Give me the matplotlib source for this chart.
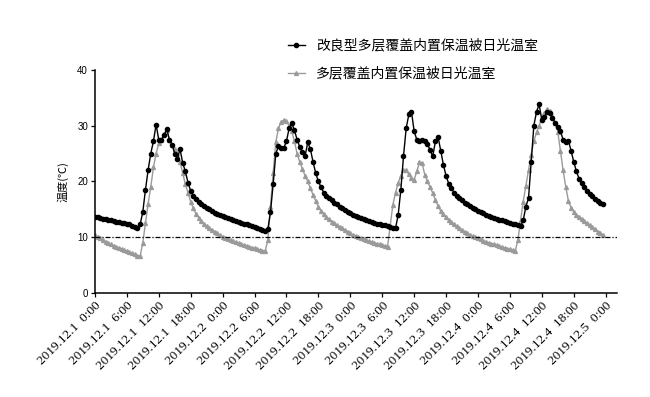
import numpy as np
import matplotlib
matplotlib.use("Agg")
import matplotlib.pyplot as plt

# half-hourly greenhouse temperatures, 2019.12.1 0:00 -> 2019.12.4 23:30
improved_temp = [
    # day 1
    13.7, 13.55, 13.4, 13.3, 13.2, 13.1, 13.0, 12.9,
    12.8, 12.7, 12.6, 12.5, 12.4, 12.3, 12.0, 11.8,
    11.7, 12.3, 14.5, 18.5, 22.0, 25.0, 27.2, 30.2,
    27.5, 27.4, 28.3, 29.4, 27.5, 26.6, 25.0, 24.0,
    25.8, 23.3, 21.8, 19.8, 18.3, 17.4, 16.9, 16.4,
    16.0, 15.6, 15.3, 15.0, 14.7, 14.4, 14.2, 14.0,
    # day 2
    13.8, 13.6, 13.4, 13.25, 13.1, 12.95, 12.8, 12.6,
    12.45, 12.3, 12.1, 11.95, 11.8, 11.6, 11.45, 11.3,
    11.1, 11.4, 14.5, 19.5, 25.0, 26.3, 26.0, 26.0,
    27.2, 29.5, 30.4, 29.2, 27.5, 26.2, 25.3, 24.5,
    27.0, 25.8, 23.5, 21.5, 20.0, 19.0, 18.0, 17.4,
    17.0, 16.6, 16.2, 15.9, 15.5, 15.2, 14.9, 14.6,
    # day 3
    14.3, 14.0, 13.8, 13.6, 13.4, 13.2, 13.05, 12.9,
    12.75, 12.6, 12.45, 12.3, 12.2, 12.1, 12.0, 11.85,
    11.7, 11.6, 14.0, 18.5, 24.5, 29.5, 32.0, 32.5,
    29.0, 27.5, 27.2, 27.4, 27.3, 26.7, 25.6, 24.5,
    27.2, 28.0, 25.5, 23.0, 21.0, 19.6, 18.8, 18.0,
    17.4, 17.0, 16.6, 16.2, 15.9, 15.6, 15.3, 15.0,
    # day 4
    14.7, 14.5, 14.3, 14.0, 13.8, 13.6, 13.45, 13.3,
    13.15, 13.0, 12.9, 12.75, 12.6, 12.45, 12.3, 12.15,
    12.0, 13.0, 15.5, 17.0, 23.5, 30.0, 32.5, 33.8,
    31.0, 31.5, 32.5, 32.2, 31.3, 30.5, 29.8, 29.0,
    27.5, 27.0, 27.3, 25.5, 23.5, 21.8, 20.5, 19.7,
    19.0, 18.3, 17.8, 17.3, 16.9, 16.5, 16.2, 15.9,
]

normal_temp = [
    # day 1
    10.4, 10.1, 9.8, 9.5, 9.2, 9.0, 8.7, 8.5,
    8.3, 8.1, 7.9, 7.7, 7.5, 7.3, 7.1, 6.9,
    6.7, 6.6, 9.0, 12.5, 16.0, 19.0, 22.5, 25.0,
    26.8, 27.5, 28.5, 29.2, 27.5, 26.5, 25.8, 25.0,
    23.5, 21.5, 19.5, 18.0, 16.3, 15.2, 14.2, 13.5,
    12.9, 12.4, 12.0, 11.6, 11.3, 11.0, 10.7, 10.4,
    # day 2
    10.1, 9.9, 9.7, 9.5, 9.3, 9.1, 8.9, 8.75,
    8.6, 8.45, 8.3, 8.15, 8.0, 7.85, 7.7, 7.55,
    7.45, 9.5, 15.5, 21.5, 27.0, 29.5, 30.7, 31.0,
    30.8, 30.0, 29.0, 27.2, 25.0, 23.5, 22.3, 21.0,
    20.0, 18.8, 17.6, 16.5, 15.5, 14.7, 14.1, 13.6,
    13.2, 12.8, 12.5, 12.2, 11.9, 11.6, 11.3, 11.0,
    # day 3
    10.7, 10.45, 10.25, 10.05, 9.85, 9.7, 9.5, 9.3,
    9.15, 9.0, 8.85, 8.7, 8.55, 8.45, 8.3, 12.0,
    15.8, 18.0, 19.7, 21.0, 22.1, 22.0, 21.3, 20.6,
    20.3, 21.8, 23.4, 23.3, 21.2, 20.0, 19.0, 17.9,
    16.7, 15.6, 14.7, 14.1, 13.6, 13.1, 12.7, 12.3,
    12.0, 11.6, 11.3, 11.0, 10.7, 10.45, 10.2, 10.0,
    # day 4
    9.8, 9.6, 9.4, 9.2, 9.0, 8.85, 8.7, 8.55,
    8.4, 8.25, 8.1, 7.95, 7.8, 7.65, 7.5, 9.5,
    13.0, 16.4, 19.2, 22.0, 24.8, 27.2, 28.8, 30.0,
    31.5, 32.3, 33.0, 32.7, 31.8, 30.5, 28.9, 25.5,
    22.0, 19.0, 16.5, 15.3, 14.5, 14.0, 13.7, 13.3,
    12.9, 12.5, 12.2, 11.8, 11.4, 11.0, 10.7, 10.4,
]

tick_labels = [
    "2019.12.1  0:00", "2019.12.1  6:00", "2019.12.1  12:00", "2019.12.1  18:00",
    "2019.12.2  0:00", "2019.12.2  6:00", "2019.12.2  12:00", "2019.12.2  18:00",
    "2019.12.3  0:00", "2019.12.3  6:00", "2019.12.3  12:00", "2019.12.3  18:00",
    "2019.12.4  0:00", "2019.12.4  6:00", "2019.12.4  12:00", "2019.12.4  18:00",
    "2019.12.5  0:00",
]
tick_hours = [0, 6, 12, 18, 24, 30, 36, 42, 48, 54, 60, 66, 72, 78, 84, 90, 96]
ref_temp = 10

hours = np.arange(len(improved_temp)) * 0.5

cjk = ["Noto Sans CJK SC", "DejaVu Sans"]

fig = plt.figure(figsize=(6.5, 3.97), dpi=100)
ax = fig.add_axes([0.146, 0.262, 0.803, 0.562])

ax.plot(hours, normal_temp, color="#9a9a9a", lw=1.0, marker="^", ms=2.8,
        label="多层覆盖内置保温被日光温室")
ax.plot(hours, improved_temp, color="black", lw=1.0, marker="o", ms=3.0,
        label="改良型多层覆盖内置保温被日光温室")
ax.axhline(ref_temp, color="black", lw=0.9, dashes=(4, 1.5, 1, 1.5))

ax.set_xlim(0, 98.1)
ax.set_ylim(0, 40)
ax.set_yticks([0, 10, 20, 30, 40])
ax.set_xticks(tick_hours)
ax.set_xticklabels(tick_labels, rotation=45, ha="right", rotation_mode="anchor",
                   fontsize=9.5, family="Liberation Serif")
for lab in ax.get_yticklabels():
    lab.set_fontsize(7)
    lab.set_family("Liberation Sans")

for s in ["top", "right"]:
    ax.spines[s].set_visible(False)
for s in ["left", "bottom"]:
    ax.spines[s].set_linewidth(1.1)
ax.tick_params(axis="both", direction="out", length=3, width=0.9, pad=2)

ax.set_ylabel("温度(℃)", family=cjk, fontsize=8, labelpad=6)

handles, labels = ax.get_legend_handles_labels()
fig.legend(handles[::-1], labels[::-1], loc="upper left", bbox_to_anchor=(0.443, 0.903),
           frameon=False, borderpad=0, borderaxespad=0, handlelength=1.2,
           handletextpad=0.8, labelspacing=1.0, prop={"family": cjk, "size": 10})

fig.savefig("out.png", dpi=100)
